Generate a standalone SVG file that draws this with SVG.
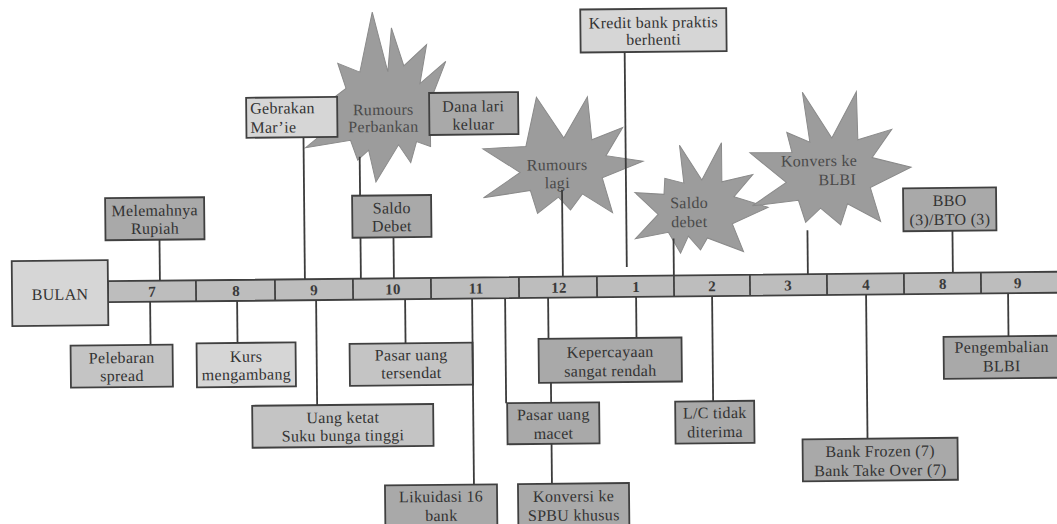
<svg xmlns="http://www.w3.org/2000/svg" width="1057" height="524" viewBox="0 0 1057 524">
<style>
.lt{fill:#d6d6d6;stroke:#404040;stroke-width:1.8}
.md{fill:#c4c4c4;stroke:#404040;stroke-width:1.8}
.dk{fill:#a9a9a9;stroke:#404040;stroke-width:1.8}
.star{fill:#9c9c9c;stroke:#8a8a8a;stroke-width:1}
.bar{fill:#bdbdbd;stroke:#404040;stroke-width:1.8}
.div{stroke:#404040;stroke-width:1.8}
text{font-family:"Liberation Serif","Times New Roman",serif;font-size:16px;fill:#333;text-anchor:middle;letter-spacing:0.3px}
.num{font-weight:bold;font-size:15px;fill:#3a3a3a}
.st{fill:#4a4a4a}
.cn line{stroke:#3c3c3c;stroke-width:1.8}
</style>
<rect width="1057" height="524" fill="#ffffff"/>
<g transform="rotate(-0.57 530 288)">
  <g id="timeline">
    <rect class="bar" x="108" y="277" width="962" height="21"/>
    <line class="div" x1="196" y1="277" x2="196" y2="298"/>
    <line class="div" x1="275" y1="277" x2="275" y2="298"/>
    <line class="div" x1="353" y1="277" x2="353" y2="298"/>
    <line class="div" x1="431" y1="277" x2="431" y2="298"/>
    <line class="div" x1="519" y1="277" x2="519" y2="298"/>
    <line class="div" x1="597" y1="277" x2="597" y2="298"/>
    <line class="div" x1="674" y1="277" x2="674" y2="298"/>
    <line class="div" x1="750" y1="277" x2="750" y2="298"/>
    <line class="div" x1="827" y1="277" x2="827" y2="298"/>
    <line class="div" x1="904" y1="277" x2="904" y2="298"/>
    <line class="div" x1="981" y1="277" x2="981" y2="298"/>
    <text class="num" x="152" y="293">7</text>
    <text class="num" x="236" y="293">8</text>
    <text class="num" x="314" y="293">9</text>
    <text class="num" x="393" y="293">10</text>
    <text class="num" x="476" y="293">11</text>
    <text class="num" x="559" y="293">12</text>
    <text class="num" x="636" y="293">1</text>
    <text class="num" x="712" y="293">2</text>
    <text class="num" x="788" y="293">3</text>
    <text class="num" x="866" y="293">4</text>
    <text class="num" x="943" y="293">8</text>
    <text class="num" x="1018" y="293">9</text>
  </g>
  <g id="bulan">
    <rect class="lt" x="12" y="256" width="96" height="65"/>
    <text x="60" y="295">BULAN</text>
  </g>
  <g id="rumours-perbankan" transform="translate(2,-1.5)">
    <polygon class="star" points="373,12 388,72 392,28 404,66 427,45 420,84 446,62 432,97 440,115 430,130 430,147 416,142 410,163 398,145 375,182 368,150 357,160 350,140 305,147 336,122 330,100 346,88 338,63 360,72"/>
    <text class="st" x="383" y="115">Rumours</text>
    <text class="st" x="383" y="132">Perbankan</text>
  </g>
  <g id="rumours-lagi" transform="translate(1.3,0.4)">
    <polygon class="star" points="537,97 564,138 588,97 592,140 623,128 606,156 643,162 602,178 612,213 582,194 570,210 558,197 537,213 530,190 483,197 520,172 483,148 526,146"/>
    <text class="st" x="557" y="170">Rumours</text>
    <text class="st" x="557" y="188">lagi</text>
  </g>
  <g id="saldo-debet-star" transform="translate(0.9,1.7)">
    <polygon class="star" points="680,145 702,180 722,143 722,182 753,175 734,197 768,208 732,224 743,252 707,238 700,250 688,236 680,253 668,232 635,238 658,214 635,192 664,194 665,178 684,183"/>
    <text class="st" x="689" y="208">Saldo</text>
    <text class="st" x="689" y="227">debet</text>
  </g>
  <g id="konvers-blbi" transform="translate(1.3,3)">
    <polygon class="star" points="803,92 832,138 857,92 858,140 892,130 872,158 911,168 870,188 880,222 847,204 840,225 820,208 805,222 798,200 752,205 786,182 750,152 792,152 787,132 810,142"/>
    <text class="st" x="819" y="166">Konvers ke</text>
    <text class="st" x="837" y="185">BLBI</text>
  </g>
  <g id="melemahnya">
    <rect class="dk" x="106" y="194" width="99" height="42"/>
    <text x="155.5" y="212">Melemahnya</text>
    <text x="155.5" y="230">Rupiah</text>
  </g>
  <g id="gebrakan">
    <rect class="lt" x="248" y="95" width="91" height="40"/>
    <text x="252" y="111" style="text-anchor:start">Gebrakan</text>
    <text x="252" y="130" style="text-anchor:start">Mar’ie</text>
  </g>
  <g id="dana">
    <rect class="dk" x="431" y="92" width="89" height="42"/>
    <text x="475" y="111">Dana lari</text>
    <text x="475" y="129">keluar</text>
  </g>
  <g id="saldo-debet">
    <rect class="dk" x="353" y="194" width="79" height="42"/>
    <text x="392.5" y="212">Saldo</text>
    <text x="392.5" y="230">Debet</text>
  </g>
  <g id="kredit">
    <rect class="lt" x="583" y="10" width="146" height="43"/>
    <text x="656" y="29">Kredit bank praktis</text>
    <text x="656" y="46">berhenti</text>
  </g>
  <g id="bbo">
    <rect class="dk" x="904" y="192" width="93" height="43"/>
    <text x="950.5" y="210">BBO</text>
    <text x="950.5" y="229">(3)/BTO (3)</text>
  </g>
  <g id="pelebaran">
    <rect class="md" x="70" y="341" width="102" height="42"/>
    <text x="121" y="359">Pelebaran</text>
    <text x="121" y="377">spread</text>
  </g>
  <g id="kurs">
    <rect class="lt" x="196" y="340" width="99" height="44"/>
    <text x="245.5" y="359">Kurs</text>
    <text x="245.5" y="377">mengambang</text>
  </g>
  <g id="uang-ketat">
    <rect class="md" x="251" y="403" width="181" height="42"/>
    <text x="341.5" y="421">Uang ketat</text>
    <text x="341.5" y="439">Suku bunga tinggi</text>
  </g>
  <g id="pasar-tersendat">
    <rect class="md" x="349" y="342" width="123" height="42"/>
    <text x="410.5" y="359">Pasar uang</text>
    <text x="410.5" y="377">tersendat</text>
  </g>
  <g id="likuidasi">
    <rect class="dk" x="383" y="484" width="112" height="46"/>
    <text x="439" y="501">Likuidasi 16</text>
    <text x="439" y="520">bank</text>
  </g>
  <g id="pasar-macet">
    <rect class="dk" x="506" y="403" width="92" height="41"/>
    <text x="552" y="420">Pasar uang</text>
    <text x="552" y="439">macet</text>
  </g>
  <g id="kepercayaan">
    <rect class="dk" x="538" y="339" width="143" height="44"/>
    <text x="609.5" y="358">Kepercayaan</text>
    <text x="609.5" y="377">sangat rendah</text>
  </g>
  <g id="konversi-spbu">
    <rect class="dk" x="516" y="484" width="111" height="46"/>
    <text x="571.5" y="502">Konversi ke</text>
    <text x="571.5" y="521">SPBU khusus</text>
  </g>
  <g id="lc">
    <rect class="dk" x="674" y="403" width="79" height="42"/>
    <text x="713.5" y="420">L/C tidak</text>
    <text x="713.5" y="439">diterima</text>
  </g>
  <g id="bank-frozen">
    <rect class="dk" x="801" y="442" width="155" height="42"/>
    <text x="878.5" y="460">Bank Frozen (7)</text>
    <text x="878.5" y="479">Bank Take Over (7)</text>
  </g>
  <g id="pengembalian">
    <rect class="dk" x="943" y="341" width="120" height="42"/>
    <text x="1001" y="357">Pengembalian</text>
    <text x="1001" y="376">BLBI</text>
  </g>
  <g id="connectors" class="cn">
    <line x1="160" y1="236" x2="160" y2="277"/>
    <line x1="305" y1="135" x2="305" y2="277"/>
    <line x1="361" y1="155" x2="361" y2="194"/>
    <line x1="361" y1="236" x2="361" y2="277"/>
    <line x1="394" y1="236" x2="394" y2="277"/>
    <line x1="627" y1="53" x2="627" y2="268"/>
    <line x1="563" y1="190" x2="563" y2="277"/>
    <line x1="674" y1="240" x2="674" y2="277"/>
    <line x1="808" y1="233" x2="808" y2="277"/>
    <line x1="953" y1="235" x2="953" y2="277"/>
    <line x1="150" y1="298" x2="150" y2="341"/>
    <line x1="237" y1="298" x2="237" y2="340"/>
    <line x1="316" y1="298" x2="316" y2="403"/>
    <line x1="405" y1="298" x2="405" y2="342"/>
    <line x1="472" y1="298" x2="472" y2="484"/>
    <line x1="505" y1="298" x2="505" y2="403"/>
    <line x1="548" y1="298" x2="548" y2="339"/>
    <line x1="636" y1="298" x2="636" y2="339"/>
    <line x1="550" y1="383" x2="550" y2="403"/>
    <line x1="550" y1="444" x2="550" y2="484"/>
    <line x1="712" y1="298" x2="712" y2="403"/>
    <line x1="866" y1="298" x2="866" y2="442"/>
    <line x1="1008" y1="298" x2="1008" y2="341"/>
  </g>
</g>
</svg>
